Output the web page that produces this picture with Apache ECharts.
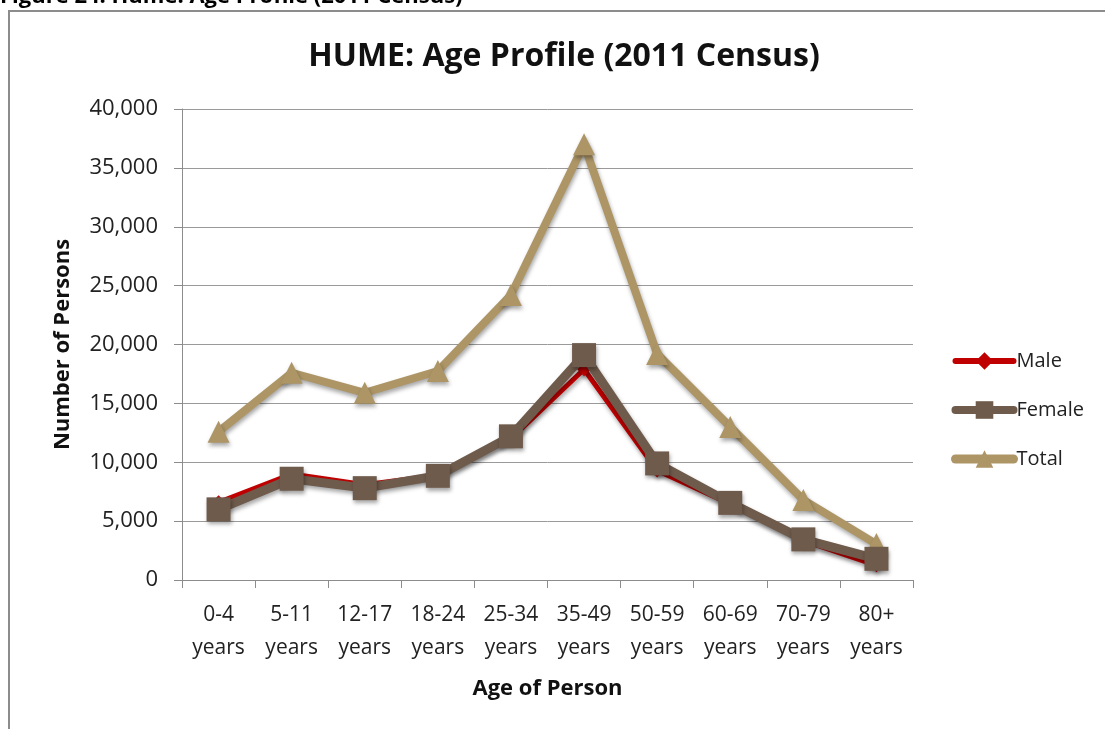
<!DOCTYPE html>
<html>
<head>
<meta charset="utf-8">
<script src="https://cdn.jsdelivr.net/npm/echarts@6/dist/echarts.min.js"></script>
<style>
  html, body { margin: 0; padding: 0; background: #fff; }
  #chart { width: 1105px; height: 729px; }
</style>
</head>
<body>
<div id="chart"></div>
<script>
// age groups and persons counts
var ageGroups = ['0-4\nyears', '5-11\nyears', '12-17\nyears', '18-24\nyears', '25-34\nyears',
  '35-49\nyears', '50-59\nyears', '60-69\nyears', '70-79\nyears', '80+\nyears'];
var male = [6600, 9000, 8100, 8900, 12000, 17900, 9300, 6450, 3350, 1250];
var female = [6000, 8600, 7800, 8850, 12200, 19100, 9900, 6550, 3450, 1800];
var total = [12600, 17600, 15900, 17750, 24200, 37000, 19200, 13000, 6800, 3050];
var yTicks = [0, 5000, 10000, 15000, 20000, 25000, 30000, 35000, 40000];

var font = '"Open Sans", "Noto Sans", sans-serif';
var chart = echarts.init(document.getElementById('chart'));

var shadow = {
  shadowBlur: 4,
  shadowColor: 'rgba(0,0,0,0.35)',
  shadowOffsetX: 1,
  shadowOffsetY: 3
};

var colors = { Male: '#C00000', Female: '#6F5B4C', Total: '#AD9566' };

function lineSeries (name, data, width, symbol, size, z) {
  var color = colors[name];
  return {
    name: name,
    type: 'line',
    data: data,
    symbol: symbol,
    symbolSize: size,
    z: z,
    lineStyle: Object.assign({ color: color, width: width }, shadow),
    itemStyle: Object.assign({ color: color, borderColor: color, borderWidth: 0 }, shadow),
    emphasis: { disabled: true }
  };
}

chart.setOption({
  animation: false,
  textStyle: { fontFamily: font },
  title: {
    text: 'HUME: Age Profile (2011 Census)',
    left: 559,
    textAlign: 'center',
    top: 36,
    textStyle: { fontFamily: font, fontSize: 32, fontWeight: 'bold', color: '#111' }
  },
  graphic: [
    {
      type: 'text',
      left: 0,
      top: -14,
      style: { text: 'Figure 24: Hume: Age Profile (2011 Census)', font: 'bold 22px ' + font, fill: '#000' }
    },
    {
      type: 'rect',
      shape: { x: 9, y: 11, width: 1110, height: 730 },
      style: { fill: 'none', stroke: '#8c8c8c', lineWidth: 2 },
      z: -1
    }
  ],
  legend: {
    orient: 'vertical',
    left: 946,
    top: 346,
    itemGap: 29,
    itemWidth: 58,
    itemHeight: 22,
    data: [
      { name: 'Male', lineStyle: { width: 6, cap: 'round' } },
      { name: 'Female', lineStyle: { width: 8, cap: 'round' } },
      { name: 'Total', lineStyle: { width: 9, cap: 'round' } }
    ],
    textStyle: { fontFamily: font, fontSize: 20, color: '#222', padding: [0, 0, 0, -2] }
  },
  grid: { left: 182, right: 192, top: 109, bottom: 149 },
  xAxis: {
    type: 'category',
    data: ageGroups,
    name: 'Age of Person',
    nameLocation: 'middle',
    nameGap: 98,
    nameTextStyle: { fontFamily: font, fontSize: 22, fontWeight: 'bold', color: '#111' },
    axisLine: { lineStyle: { color: '#8c8c8c', width: 1 } },
    axisTick: { show: true, interval: 0, length: 8, lineStyle: { color: '#8c8c8c' } },
    axisLabel: { interval: 0, fontFamily: font, fontSize: 21, color: '#222', lineHeight: 33, margin: 19 }
  },
  yAxis: {
    type: 'value',
    min: yTicks[0],
    max: yTicks[yTicks.length - 1],
    interval: 5000,
    name: 'Number of Persons',
    nameLocation: 'middle',
    nameGap: 108,
    nameTextStyle: { fontFamily: font, fontSize: 22, fontWeight: 'bold', color: '#111' },
    axisLine: { show: true, lineStyle: { color: '#8c8c8c', width: 1 } },
    axisTick: { show: true, length: 8, lineStyle: { color: '#8c8c8c' } },
    splitLine: { lineStyle: { color: '#9a9a9a', width: 1 } },
    axisLabel: {
      fontFamily: font, fontSize: 22, color: '#222', margin: 24,
      formatter: function (v) { return v.toLocaleString('en-US'); }
    }
  },
  series: [
    lineSeries('Male', male, 5, 'diamond', 14, 3),
    lineSeries('Female', female, 9, 'rect', 24, 4),
    lineSeries('Total', total, 8, 'triangle', 22, 2)
  ]
});
</script>
</body>
</html>
